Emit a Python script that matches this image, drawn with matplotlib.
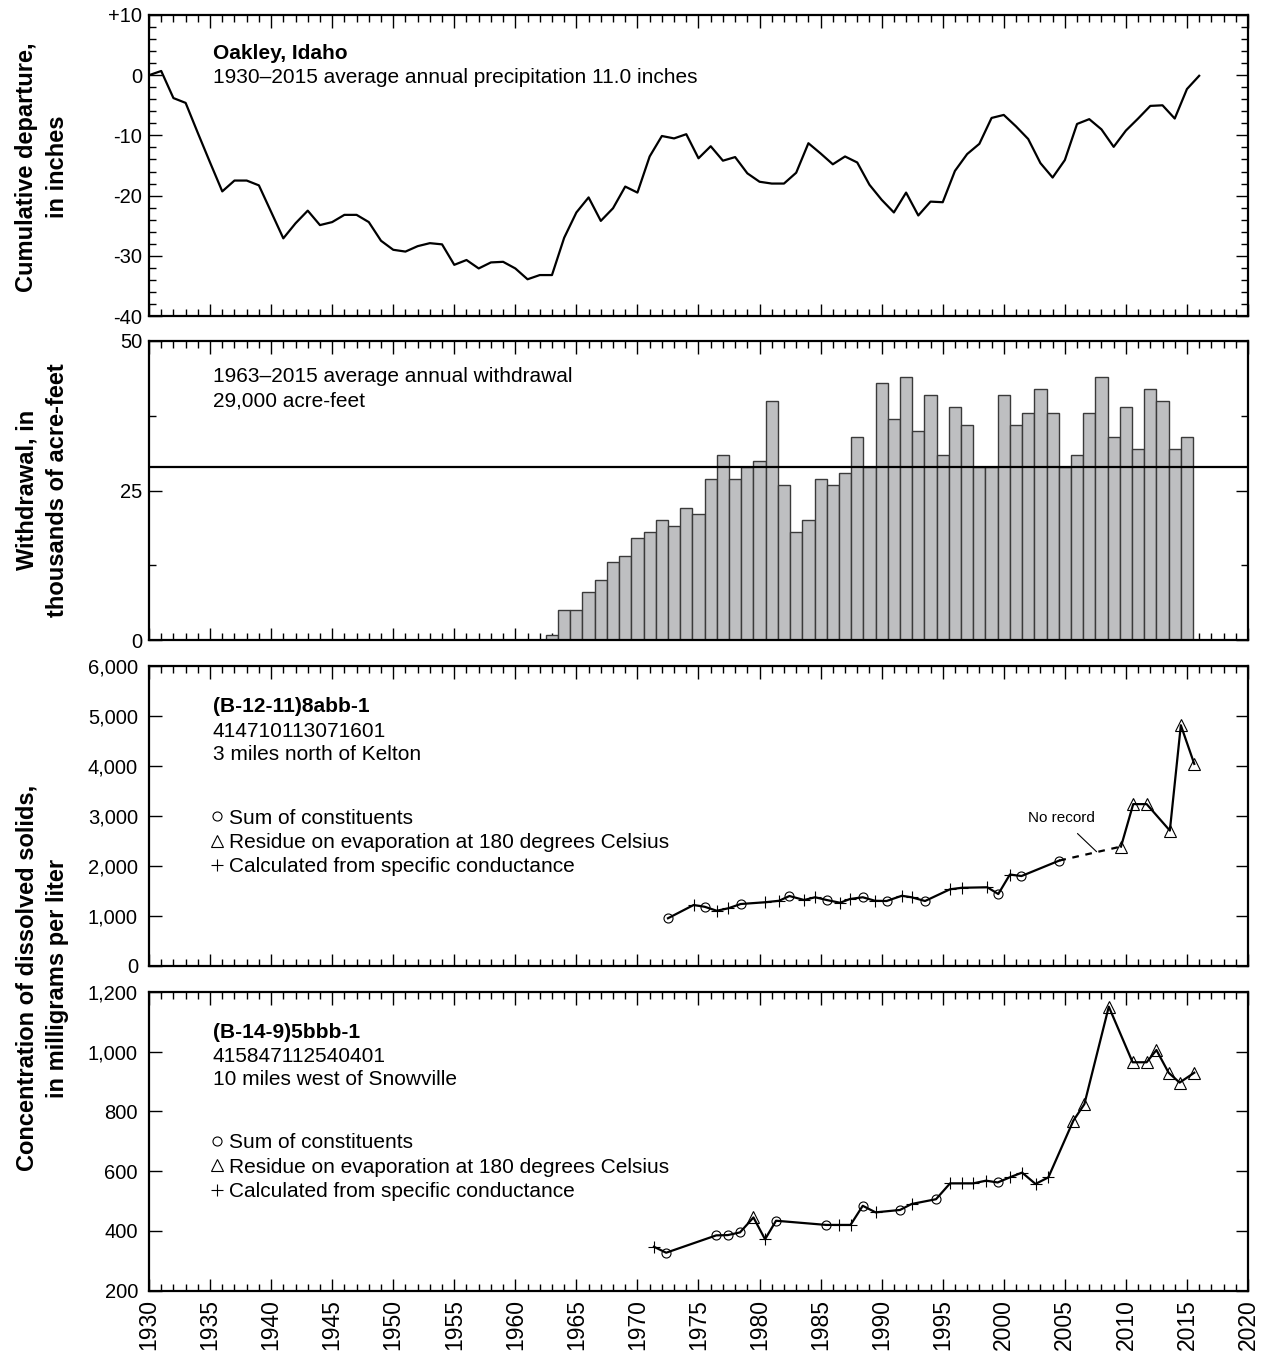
import numpy as np
import matplotlib
matplotlib.use("Agg")
import matplotlib.pyplot as plt
from matplotlib.ticker import MultipleLocator, FuncFormatter
from matplotlib.lines import Line2D

plt.rcParams['font.family'] = ['Liberation Sans', 'DejaVu Sans']
plt.rcParams['axes.unicode_minus'] = False

# ---------------- data ----------------
precip_years = list(range(1930, 2017))
precip_departure = [
    0.0, 0.7, -3.8, -4.6, -9.6, -14.5, -19.3, -17.5, -17.5, -18.3,
    -22.7, -27.1, -24.6, -22.5, -24.9, -24.4, -23.2, -23.2, -24.4, -27.5,
    -29.0, -29.3, -28.4, -27.9, -28.1, -31.5, -30.7, -32.1, -31.1, -31.0,
    -32.1, -33.9, -33.2, -33.2, -27.0, -22.8, -20.3, -24.2, -22.1, -18.5,
    -19.5, -13.5, -10.1, -10.5, -9.8, -13.8, -11.8, -14.2, -13.6, -16.3,
    -17.7, -18.0, -18.0, -16.2, -11.3, -13.0, -14.8, -13.5, -14.5, -18.2,
    -20.7, -22.8, -19.5, -23.3, -21.0, -21.1, -15.9, -13.1, -11.4, -7.1,
    -6.6, -8.5, -10.6, -14.6, -17.0, -14.1, -8.1, -7.3, -9.0, -11.9,
    -9.2, -7.2, -5.1, -5.0, -7.2, -2.3, -0.1,
]

withdrawal_years = list(range(1963, 2016))
withdrawal_kaf = [
    0.8, 5, 5, 8, 10, 13, 14, 17, 18, 20,
    19, 22, 21, 27, 31, 27, 29, 30, 40, 26,
    18, 20, 27, 26, 28, 34, 29, 43, 37, 44,
    35, 41, 31, 39, 36, 29, 29, 41, 36, 38,
    42, 38, 29, 31, 38, 44, 34, 39, 32, 42,
    40, 32, 34,
]
withdrawal_average = 29.0

kelton_years = [
    1972.5, 1974.6, 1975.5, 1976.5, 1977.45, 1978.45, 1980.45, 1981.6, 1982.45, 1983.65,
    1984.55, 1985.5, 1986.6, 1987.4, 1988.45, 1989.45, 1990.4, 1991.65, 1992.45, 1993.55,
    1995.6, 1996.55, 1998.65, 1999.55, 2000.5, 2001.45, 2004.55, 2009.6, 2010.6, 2011.7,
    2013.6, 2014.5, 2015.6,
]
kelton_tds = [
    950, 1215, 1180, 1100, 1150, 1235, 1270, 1300, 1395, 1315,
    1370, 1315, 1260, 1335, 1370, 1300, 1295, 1400, 1370, 1295,
    1530, 1560, 1570, 1435, 1825, 1795, 2105, 2385, 3235, 3235,
    2705, 4815, 4040,
]
kelton_method = [
    'o', '+', 'o', '+', '+', 'o', '+', '+', 'o', '+',
    '+', 'o', '+', '+', 'o', '+', 'o', '+', '+', 'o',
    '+', '+', '+', 'o', '+', 'o', 'o', '^', '^', '^',
    '^', '^', '^',
]

snowville_years = [
    1971.35, 1972.35, 1976.45, 1977.4, 1978.4, 1979.5, 1980.45, 1981.35, 1985.45, 1986.5,
    1987.45, 1988.45, 1989.5, 1991.5, 1992.45, 1994.45, 1995.6, 1996.55, 1997.5, 1998.55,
    1999.5, 2000.55, 2001.5, 2002.6, 2003.65, 2005.7, 2006.6, 2008.6, 2010.55, 2011.7,
    2012.5, 2013.5, 2014.4, 2015.6,
]
snowville_tds = [
    347, 327, 385, 386, 395, 445, 372, 434, 420, 420,
    420, 484, 462, 470, 490, 506, 559, 559, 559, 568,
    562, 580, 595, 557, 579, 769, 824, 1150, 964, 964,
    1005, 929, 896, 929,
]
snowville_method = [
    '+', 'o', 'o', 'o', 'o', '^', '+', 'o', 'o', '+',
    '+', 'o', '+', 'o', '+', 'o', '+', '+', '+', '+',
    'o', '+', '+', '+', '+', '^', '^', '^', '^', '^',
    '^', '^', '^', '^',
]

method_labels = {
    'o': 'Sum of constituents',
    '^': 'Residue on evaporation at 180 degrees Celsius',
    '+': 'Calculated from specific conductance',
}
year_ticks = list(range(1930, 2021, 5))

# ---------------- figure ----------------
FS = 15
TFS = 14.5
W, H = 1268, 1360
fig = plt.figure(figsize=(W / 100, H / 100), dpi=100)

left = 149 / W
width = (1248 - 149) / W


def add_panel(top_px, bot_px):
    return fig.add_axes([left, 1 - bot_px / H, width, (bot_px - top_px) / H])


ax1 = add_panel(15, 316)
ax2 = add_panel(341, 640)
ax3 = add_panel(666, 965.7)
ax4 = add_panel(991.7, 1290.7)

for ax in (ax1, ax2, ax3, ax4):
    ax.set_xlim(1930, 2020)
    ax.xaxis.set_major_locator(MultipleLocator(5))
    ax.xaxis.set_minor_locator(MultipleLocator(1))
    ax.tick_params(which='both', direction='in', top=True, right=True,
                   labelsize=TFS, width=1.0, color='black')
    ax.tick_params(which='major', length=9)
    ax.tick_params(which='minor', length=5)
    ax.tick_params(axis='y', which='major',
                   pad=(5 if ax in (ax1, ax2) else 8))
    for sp in ax.spines.values():
        sp.set_linewidth(1.6)
    if ax is not ax4:
        ax.tick_params(axis='x', labelbottom=False)

# Panel 1: precipitation departure
ax1.plot(precip_years, precip_departure, color='black', lw=1.6)
ax1.set_ylim(-40, 10)
ax1.yaxis.set_major_locator(MultipleLocator(10))
ax1.yaxis.set_minor_locator(MultipleLocator(2))
ax1.yaxis.set_major_formatter(FuncFormatter(
    lambda v, p: f"+{int(v)}" if v > 0 else f"{int(v)}"))
ax1.text(0.058, 0.872, 'Oakley, Idaho', transform=ax1.transAxes,
         fontsize=FS, fontweight='bold', va='center', ha='left')
ax1.text(0.058, 0.792, '1930\u20132015 average annual precipitation 11.0 inches',
         transform=ax1.transAxes, fontsize=FS, va='center', ha='left')

# Panel 2: withdrawals
ax2.bar(withdrawal_years, withdrawal_kaf, width=1.0, color='#BEBFC1',
        edgecolor='#3a3a3a', linewidth=1.0, zorder=2)
ax2.axhline(withdrawal_average, color='black', lw=1.6, zorder=3)
ax2.set_ylim(0, 50)
ax2.yaxis.set_major_locator(MultipleLocator(25))
ax2.yaxis.set_minor_locator(MultipleLocator(12.5))
ax2.yaxis.set_major_formatter(FuncFormatter(lambda v, p: f"{int(v)}"))
ax2.text(0.058, 0.881, '1963\u20132015 average annual withdrawal',
         transform=ax2.transAxes, fontsize=FS, va='center', ha='left')
ax2.text(0.058, 0.801, '29,000 acre-feet',
         transform=ax2.transAxes, fontsize=FS, va='center', ha='left')


def draw_series(ax, yrs, vals, methods, gap_dashed=False):
    yrs = np.asarray(yrs)
    vals = np.asarray(vals)
    if gap_dashed:
        gap = int(np.argmax(np.diff(yrs)))
        ax.plot(yrs[:gap + 1], vals[:gap + 1], color='black', lw=1.6, zorder=3)
        ax.plot(yrs[gap:gap + 2], vals[gap:gap + 2], color='black', lw=1.6,
                ls=(0, (3, 3)), zorder=3)
        ax.plot(yrs[gap + 1:], vals[gap + 1:], color='black', lw=1.6, zorder=3)
    else:
        ax.plot(yrs, vals, color='black', lw=1.6, zorder=3)
    methods = np.asarray(methods)
    for m, ms in (('o', 6.5), ('^', 8.5)):
        sel = methods == m
        ax.plot(yrs[sel], vals[sel], ls='none', marker=m, ms=ms,
                mfc='none', mec='black', mew=0.8, zorder=4)
    sel = methods == '+'
    ax.plot(yrs[sel], vals[sel], ls='none', marker='+', ms=8,
            mec='black', mew=0.8, zorder=4)


def add_legend(ax, y_anchor):
    handles = [
        Line2D([], [], ls='none', marker='o', ms=6.5, mfc='none', mec='black', mew=0.8),
        Line2D([], [], ls='none', marker='^', ms=8, mfc='none', mec='black', mew=0.8),
        Line2D([], [], ls='none', marker='+', ms=8, mec='black', mew=0.8),
    ]
    labels = [method_labels['o'], method_labels['^'], method_labels['+']]
    ax.legend(handles, labels, loc='upper left', bbox_to_anchor=(0.056, y_anchor),
              frameon=False, fontsize=FS, handlelength=0.6, handletextpad=0.3,
              labelspacing=0.25, borderpad=0, borderaxespad=0)


# Panel 3: Kelton well
draw_series(ax3, kelton_years, kelton_tds, kelton_method, gap_dashed=True)
ax3.set_ylim(0, 6000)
ax3.yaxis.set_major_locator(MultipleLocator(1000))
ax3.yaxis.set_major_formatter(FuncFormatter(lambda v, p: f"{int(v):,}"))
ax3.text(0.058, 0.865, '(B-12-11)8abb-1', transform=ax3.transAxes,
         fontsize=FS, fontweight='bold', va='center', ha='left')
ax3.text(0.058, 0.782, '414710113071601', transform=ax3.transAxes,
         fontsize=FS, va='center', ha='left')
ax3.text(0.058, 0.705, '3 miles north of Kelton', transform=ax3.transAxes,
         fontsize=FS, va='center', ha='left')
add_legend(ax3, 0.524)
ax3.annotate('No record', xy=(2007.6, 2282), xytext=(2004.7, 2957),
             fontsize=11, ha='center', va='center',
             arrowprops=dict(arrowstyle='-', lw=0.8, color='black',
                             shrinkA=6, shrinkB=0))

# Panel 4: Snowville well
draw_series(ax4, snowville_years, snowville_tds, snowville_method)
ax4.set_ylim(200, 1200)
ax4.yaxis.set_major_locator(MultipleLocator(200))
ax4.yaxis.set_major_formatter(FuncFormatter(lambda v, p: f"{int(v):,}"))
ax4.text(0.058, 0.863, '(B-14-9)5bbb-1', transform=ax4.transAxes,
         fontsize=FS, fontweight='bold', va='center', ha='left')
ax4.text(0.058, 0.783, '415847112540401', transform=ax4.transAxes,
         fontsize=FS, va='center', ha='left')
ax4.text(0.058, 0.706, '10 miles west of Snowville', transform=ax4.transAxes,
         fontsize=FS, va='center', ha='left')
add_legend(ax4, 0.526)
ax4.set_xticks(year_ticks)
ax4.set_xticklabels([str(y) for y in year_ticks], rotation=90, fontsize=16.5)
ax4.tick_params(axis='x', which='major', pad=6)

# y-axis labels
lab_x = 42 / W
LFS = 17
fig.text(lab_x, 1 - 167 / H, 'Cumulative departure,\nin inches', rotation=90,
         ha='center', va='center', fontsize=LFS, fontweight='bold',
         multialignment='center', linespacing=1.4)
fig.text(lab_x, 1 - 490 / H, 'Withdrawal, in\nthousands of acre-feet', rotation=90,
         ha='center', va='center', fontsize=LFS, fontweight='bold',
         multialignment='center', linespacing=1.4)
fig.text(lab_x, 1 - 978 / H,
         'Concentration of dissolved solids,\nin milligrams per liter', rotation=90,
         ha='center', va='center', fontsize=LFS, fontweight='bold',
         multialignment='center', linespacing=1.4)

fig.savefig('out.png', dpi=100, facecolor='white')
